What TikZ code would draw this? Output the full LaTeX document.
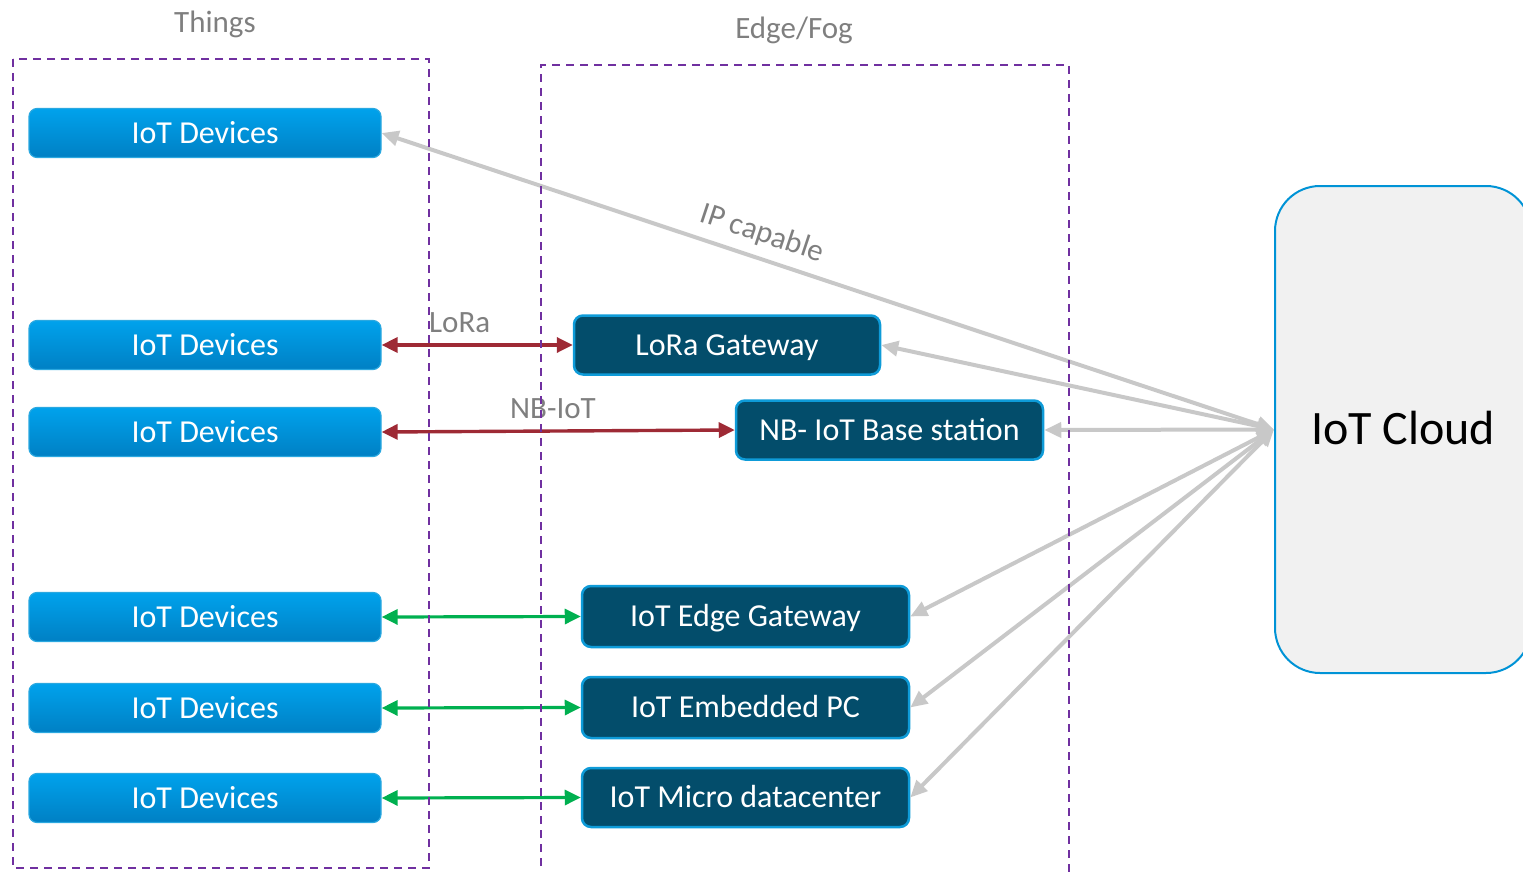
\documentclass[tikz,border=0pt]{standalone}
\usepackage{fontspec}
\setmainfont{Carlito}
\usetikzlibrary{arrows.meta}
\definecolor{purp}{HTML}{7030A0}
\definecolor{labgray}{HTML}{7F7F7F}
\definecolor{linegray}{HTML}{C8C8C8}
\definecolor{redarr}{HTML}{9E2A35}
\definecolor{greenarr}{HTML}{00B050}
\definecolor{devtop}{HTML}{00A2EC}
\definecolor{devbot}{HTML}{0080C4}
\definecolor{devborder}{HTML}{2AA8E0}
\definecolor{darkfill}{HTML}{034D6B}
\definecolor{darkborder}{HTML}{0E9BD8}
\definecolor{cloudfill}{HTML}{F1F1F1}
\definecolor{cloudborder}{HTML}{0093D6}
\tikzset{
  capcenter/.style={text height=20.5pt, text depth=0pt},
  devbox/.style={rectangle, rounded corners=8pt, minimum width=352pt, minimum height=49pt,
    inner sep=0pt, top color=devtop, bottom color=devbot, draw=devborder, line width=1.2pt,
    text=white, font=\fontsize{32}{38}\selectfont, capcenter},
  darkbox/.style={rectangle, rounded corners=9pt, minimum height=59pt, inner sep=0pt,
    fill=darkfill, draw=darkborder, line width=2.5pt, text=white,
    font=\fontsize{32}{38}\selectfont, capcenter},
  grouplabel/.style={text=labgray, font=\fontsize{31}{37}\selectfont, inner sep=0pt, capcenter},
  linklabel/.style={text=labgray, font=\fontsize{31}{37}\selectfont, inner sep=0pt},
  groupframe/.style={draw=purp, line width=2.2pt, dash pattern=on 8pt off 6pt},
  redlink/.style={draw=redarr, line width=3.4pt, {Triangle[length=16pt,width=15pt]}-{Triangle[length=16pt,width=15pt]}},
  greenlink/.style={draw=greenarr, line width=3.2pt, {Triangle[length=16pt,width=15pt]}-{Triangle[length=16pt,width=15pt]}},
  graylink/.style={draw=linegray, line width=4pt, {Triangle[length=17pt,width=15pt]}-{Triangle[length=17pt,width=15pt]}}
}
\begin{document}
\begin{tikzpicture}[x=1pt,y=-1pt]
\useasboundingbox (0,0) rectangle (1523,872);
\clip (0,0) rectangle (1523,872);

% group labels
\node[grouplabel] (thingslab) at (215,22) {Things};
\node[grouplabel] (edgelab) at (794,28) {Edge/Fog};

% cloud
\node[rectangle, rounded corners=45pt, minimum width=256pt, minimum height=487pt,
      fill=cloudfill, draw=cloudborder, line width=2pt, inner sep=0pt,
      text height=30pt, text depth=0pt,
      font=\fontsize{48}{56}\selectfont] (cloud) at (1403,429.5) {IoT Cloud};

% device boxes
\node[devbox] (d1) at (205,133) {IoT Devices};
\node[devbox] (d2) at (205,345) {IoT Devices};
\node[devbox] (d3) at (205,432) {IoT Devices};
\node[devbox] (d4) at (205,617) {IoT Devices};
\node[devbox] (d5) at (205,708) {IoT Devices};
\node[devbox] (d6) at (205,798) {IoT Devices};

% edge boxes
\node[darkbox, minimum width=306pt] (lora) at (727,345) {LoRa Gateway};
\node[darkbox, minimum width=307pt] (nb) at (889.5,430) {NB- IoT Base station};
\node[darkbox, minimum width=327pt, minimum height=61pt] (egw) at (745.5,616.5) {IoT Edge Gateway};
\node[darkbox, minimum width=327pt, minimum height=61pt] (epc) at (745.5,707.5) {IoT Embedded PC};
\node[darkbox, minimum width=327pt, minimum height=59pt] (mdc) at (745.5,797.5) {IoT Micro datacenter};

% links
\draw[redlink] (d2.east) -- (lora.west);
\draw[redlink] (d3.east) -- (nb.west);
\node[linklabel, anchor=west, capcenter] (loralab) at (429,322) {LoRa};
\node[linklabel, capcenter] (nblab) at (553,408) {NB-IoT};
\draw[greenlink] (d4.east) -- (egw.west);
\draw[greenlink] (d5.east) -- (epc.west);
\draw[greenlink] (d6.east) -- (mdc.west);

\draw[graylink] (d1.east) -- node[pos=0.418, sloped, above=9pt, linklabel] (iplab) {IP capable} (cloud.west);
\draw[graylink] (lora.east) -- (cloud.west);
\draw[graylink] (nb.east) -- (cloud.west);
\draw[graylink] (egw.east) -- (cloud.west);
\draw[graylink] (epc.east) -- (cloud.west);
\draw[graylink] (mdc.east) -- (cloud.west);

% group frames
\draw[groupframe] (13,59) rectangle (429,868);
\draw[groupframe] (541,880) -- (541,65) -- (1069,65) -- (1069,880);
\end{tikzpicture}
\end{document}
